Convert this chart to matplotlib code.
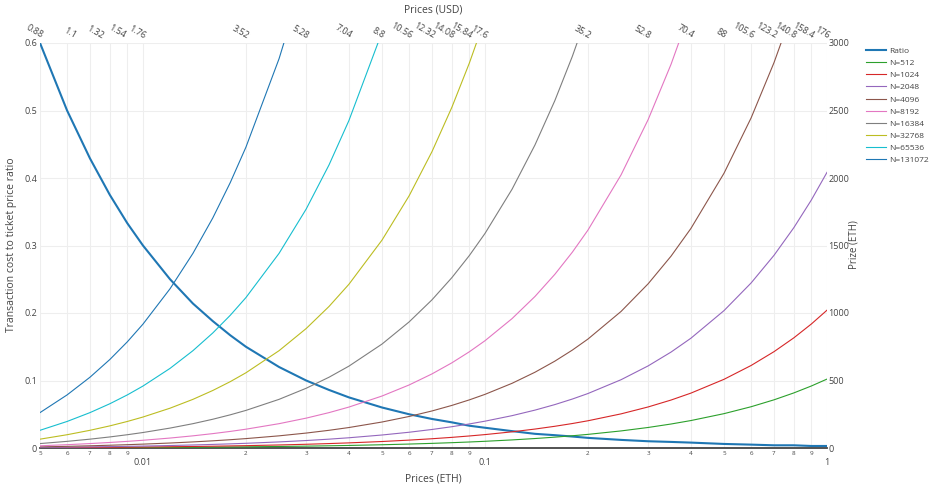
import numpy as np
import matplotlib
matplotlib.use("Agg")
import matplotlib.pyplot as plt
from matplotlib.ticker import FuncFormatter, NullLocator, LogLocator

plt.rcParams['font.family'] = ['Open Sans', 'DejaVu Sans']

# ticket price in ETH (x axis)
prices_eth = [0.005, 0.006, 0.007, 0.008, 0.009, 0.01, 0.012, 0.014, 0.016, 0.018,
              0.02, 0.025, 0.03, 0.035, 0.04, 0.05, 0.06, 0.07, 0.08, 0.09,
              0.1, 0.12, 0.14, 0.16, 0.18, 0.2, 0.25, 0.3, 0.35, 0.4,
              0.5, 0.6, 0.7, 0.8, 0.9, 1.0]

# transaction cost / ticket price (left axis)
ratio = [0.6, 0.5, 0.429, 0.375, 0.333, 0.3, 0.25, 0.214, 0.188, 0.167,
         0.15, 0.12, 0.1, 0.086, 0.075, 0.06, 0.05, 0.043, 0.038, 0.033,
         0.03, 0.025, 0.021, 0.019, 0.017, 0.015, 0.012, 0.01, 0.009, 0.008,
         0.006, 0.005, 0.004, 0.004, 0.003, 0.003]

# prize in ETH for each number of tickets (right axis)
prize_512 = [1.0, 1.5, 2.0, 2.6, 3.1, 3.6, 4.6, 5.6, 6.7, 7.7, 8.7, 11.3, 13.8, 16.4,
             18.9, 24.1, 29.2, 34.3, 39.4, 44.5, 49.7, 59.9, 70.1, 80.4, 90.6, 100.9,
             126.5, 152.1, 177.7, 203.3, 254.5, 305.7, 356.9, 408.1, 459.3, 510.5]
prize_1024 = [2.0, 3.1, 4.1, 5.1, 6.1, 7.2, 9.2, 11.3, 13.3, 15.4, 17.4, 22.5, 27.6, 32.8,
              37.9, 48.1, 58.4, 68.6, 78.8, 89.1, 99.3, 119.8, 140.3, 160.8, 181.2, 201.7,
              252.9, 304.1, 355.3, 406.5, 508.9, 611.3, 713.7, 816.1, 918.5, 1020.9]
prize_2048 = [4.1, 6.1, 8.2, 10.2, 12.3, 14.3, 18.4, 22.5, 26.6, 30.7, 34.8, 45.1, 55.3, 65.5,
              75.8, 96.3, 116.7, 137.2, 157.7, 178.2, 198.7, 239.6, 280.6, 321.5, 362.5, 403.5,
              505.9, 608.3, 710.7, 813.1, 1017.9, 1222.7, 1427.5, 1632.3, 1837.1, 2041.9]
prize_4096 = [8.2, 12.3, 16.4, 20.5, 24.6, 28.7, 36.9, 45.1, 53.2, 61.4, 69.6, 90.1, 110.6, 131.1,
              151.6, 192.5, 233.5, 274.4, 315.4, 356.4, 397.3, 479.2, 561.2, 643.1, 725.0, 806.9,
              1011.7, 1216.5, 1421.3, 1626.1, 2035.7, 2445.3, 2854.9, 3264.5]
prize_8192 = [16.4, 24.6, 32.8, 41.0, 49.2, 57.3, 73.7, 90.1, 106.5, 122.9, 139.3, 180.2, 221.2,
              262.1, 303.1, 385.0, 466.9, 548.9, 630.8, 712.7, 794.6, 958.5, 1122.3, 1286.1,
              1450.0, 1613.8, 2023.4, 2433.0, 2842.6, 3252.2]
prize_16384 = [32.8, 49.2, 65.5, 81.9, 98.3, 114.7, 147.5, 180.2, 213.0, 245.8, 278.5, 360.4,
               442.4, 524.3, 606.2, 770.0, 933.9, 1097.7, 1261.6, 1425.4, 1589.2, 1916.9,
               2244.6, 2572.3, 2900.0, 3227.6]
prize_32768 = [65.5, 98.3, 131.1, 163.8, 196.6, 229.4, 294.9, 360.4, 426.0, 491.5, 557.1, 720.9,
               884.7, 1048.6, 1212.4, 1540.1, 1867.8, 2195.5, 2523.1, 2850.8, 3178.5]
prize_65536 = [131.1, 196.6, 262.1, 327.7, 393.2, 458.8, 589.8, 720.9, 852.0, 983.0, 1114.1,
               1441.8, 1769.5, 2097.2, 2424.8, 3080.2]
prize_131072 = [262.1, 393.2, 524.3, 655.4, 786.4, 917.5, 1179.6, 1441.8, 1703.9, 1966.1,
                2228.2, 2883.6, 3538.9]

ticket_counts = [512, 1024, 2048, 4096, 8192, 16384, 32768, 65536, 131072]
prizes = [prize_512, prize_1024, prize_2048, prize_4096, prize_8192,
          prize_16384, prize_32768, prize_65536, prize_131072]
colors = ['#2ca02c', '#d62728', '#9467bd', '#8c564b', '#e377c2',
          '#7f7f7f', '#bcbd22', '#17becf', '#1f77b4']

# top axis labels (USD)
usd_labels = ['0.88', '1.1', '1.32', '1.54', '1.76', '3.52', '5.28', '7.04', '8.8', '10.56',
              '12.32', '14.08', '15.84', '17.6', '35.2', '52.8', '70.4', '88', '105.6',
              '123.2', '140.8', '158.4', '176']
eth_usd = 176

txt = '#444444'
grid = '#eeeeee'

fig = plt.figure(figsize=(9.3, 4.88), dpi=100)
ax = fig.add_axes([40 / 930, 40 / 488, 787 / 930, 405 / 488])
ax2 = ax.twinx()

ax.set_xscale('log')
ax.set_xlim(0.005, 1)
ax.set_ylim(0, 0.6)
ax2.set_ylim(0, 3000)

handles = []
h, = ax.plot(prices_eth, ratio, color='#1f77b4', lw=1.5, label='Ratio', zorder=3)
handles.append(h)
for n, p, c in zip(ticket_counts, prizes, colors):
    h, = ax2.plot(prices_eth[:len(p)], p, color=c, lw=0.8, label='N=%d' % n)
    handles.append(h)

# grid
ax.xaxis.set_major_locator(LogLocator(base=10))
ax.xaxis.set_minor_locator(LogLocator(base=10, subs=np.arange(2, 10)))
ax.xaxis.set_major_formatter(FuncFormatter(lambda v, p: '%g' % v))
ax.xaxis.set_minor_formatter(FuncFormatter(
    lambda v, p: '%d' % round(v / 10 ** np.floor(np.log10(v) + 1e-9))))
ax.grid(True, which='both', axis='x', color=grid, lw=0.8)
ax.grid(True, which='major', axis='y', color=grid, lw=0.8)
ax.set_yticks(np.arange(0, 0.61, 0.1))
ax.yaxis.set_major_formatter(FuncFormatter(lambda v, p: '%g' % round(v, 1)))
ax2.set_yticks(np.arange(0, 3001, 500))

ax.tick_params(which='major', axis='x', length=0, labelsize=6.5, colors=txt, pad=7)
ax.tick_params(which='minor', axis='x', length=0, labelsize=4.5, colors=txt, pad=2)
ax.tick_params(axis='y', length=0, labelsize=6.5, colors=txt, pad=2)
ax2.tick_params(axis='y', length=0, labelsize=6.5, colors=txt, pad=1)

for a in (ax, ax2):
    for s in ('top', 'left', 'right'):
        a.spines[s].set_visible(False)
ax.spines['bottom'].set_color(txt)
ax.spines['bottom'].set_linewidth(1.3)
ax2.spines['bottom'].set_visible(False)

# top axis in USD
sec = ax.secondary_xaxis('top')
sec.xaxis.set_minor_locator(NullLocator())
sec.set_xticks([float(u) / eth_usd for u in usd_labels])
sec.set_xticklabels(usd_labels, rotation=-30, ha='right', va='bottom',
                    rotation_mode='anchor')
sec.tick_params(length=0, labelsize=6.5, colors=txt, pad=2)
sec.spines['top'].set_visible(False)

fig.text(433 / 930, 1 - 10 / 488, 'Prices (USD)', ha='center', va='center',
         fontsize=7.5, color=txt)
fig.text(433 / 930, 1 - 479 / 488, 'Prices (ETH)', ha='center', va='center',
         fontsize=7.5, color=txt)
fig.text(12 / 930, 1 - 245 / 488, 'Transaction cost to ticket price ratio', rotation=90,
         ha='center', va='center', fontsize=7.5, color=txt)
fig.text(854 / 930, 1 - 245 / 488, 'Prize (ETH)', rotation=90,
         ha='center', va='center', fontsize=7, color=txt)

leg = fig.legend(handles=handles, loc='upper left', bbox_to_anchor=(866 / 930, 1 - 47 / 488),
                 frameon=False, fontsize=6, handlelength=2.4, handletextpad=0.4,
                 labelspacing=0.52, borderaxespad=0, borderpad=0)
for t in leg.get_texts():
    t.set_color(txt)

fig.savefig('out.png', dpi=100)
